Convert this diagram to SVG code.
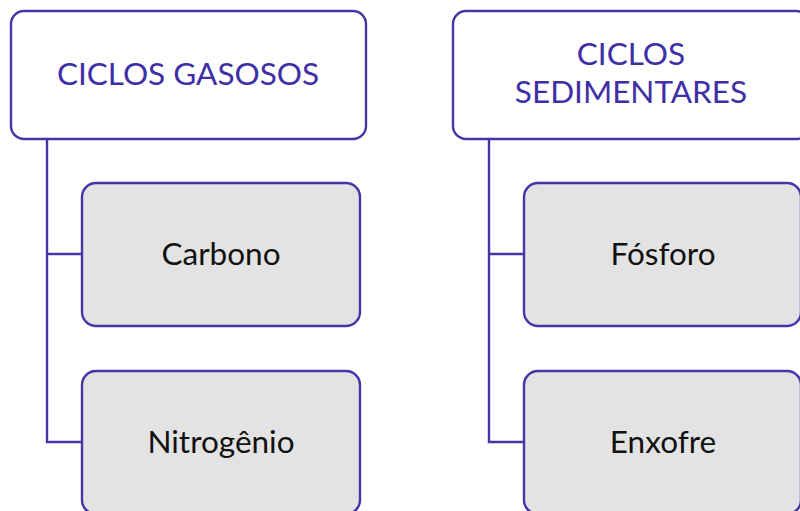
<svg xmlns="http://www.w3.org/2000/svg" width="800" height="511" viewBox="0 0 800 511">
<style>
.parent{fill:#ffffff;stroke:#4535a6;stroke-width:2.4}
.child{fill:#e3e3e3;stroke:#4535a6;stroke-width:2.4}
.conn{fill:none;stroke:#4535a6;stroke-width:2.4}
.ptxt{font-family:Lato,"Noto Sans",sans-serif;font-size:31.5px;fill:#3f2fa6;text-anchor:middle}
.ctxt{font-family:Lato,"Noto Sans",sans-serif;font-size:31.5px;fill:#111111;text-anchor:middle}
</style>
<rect width="800" height="511" fill="#ffffff"/>
<g id="connectors">
<path class="conn" d="M47,139 V442 H82 M47,254 H82"/>
<path class="conn" d="M489,139 V442 H525 M489,254 H525"/>
</g>
<g id="node-gasosos">
<rect class="parent" x="11" y="11" width="355" height="128" rx="13"/>
<text class="ptxt" x="188" y="85">CICLOS GASOSOS</text>
</g>
<g id="node-sedimentares">
<rect class="parent" x="453" y="11" width="356" height="128" rx="13"/>
<text class="ptxt" x="631" y="65">CICLOS</text>
<text class="ptxt" x="631" y="103">SEDIMENTARES</text>
</g>
<g id="node-carbono">
<rect class="child" x="82" y="183" width="278" height="143" rx="14"/>
<text class="ctxt" x="221" y="265">Carbono</text>
</g>
<g id="node-nitrogenio">
<rect class="child" x="82" y="371" width="278" height="143" rx="14"/>
<text class="ctxt" x="221" y="453">Nitrogênio</text>
</g>
<g id="node-fosforo">
<rect class="child" x="524" y="183" width="277" height="143" rx="14"/>
<text class="ctxt" x="663" y="265">Fósforo</text>
</g>
<g id="node-enxofre">
<rect class="child" x="524" y="371" width="277" height="143" rx="14"/>
<text class="ctxt" x="663" y="453">Enxofre</text>
</g>
</svg>
